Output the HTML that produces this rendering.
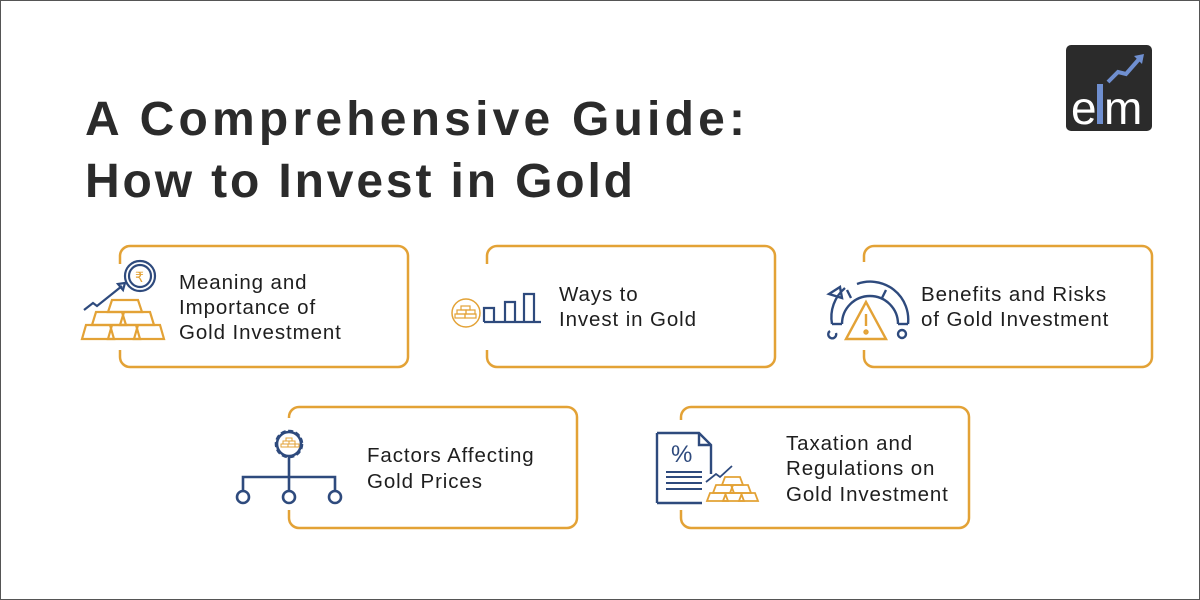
<!DOCTYPE html>
<html><head><meta charset="utf-8"><style>
html,body{margin:0;padding:0;background:#fff}
svg{display:block}
text{font-family:"Liberation Sans",sans-serif}
</style></head><body>
<svg width="1200" height="600" viewBox="0 0 1200 600" xmlns="http://www.w3.org/2000/svg">
<rect x="0.5" y="0.5" width="1199" height="599" fill="#fff" stroke="#555" stroke-width="1"/>
<g font-weight="bold" fill="#2b2b2b" font-size="48">
<text x="85" y="135" textLength="660" lengthAdjust="spacing">A Comprehensive Guide:</text>
<text x="85" y="197" textLength="548" lengthAdjust="spacing">How to Invest in Gold</text>
</g>
<rect x="1066" y="45" width="86" height="86" rx="5" fill="#2b2b2b"/>
<text x="1071" y="124" font-size="46" fill="#fff">e</text>
<rect x="1097" y="84" width="6" height="40" fill="#6f8fd0"/>
<text x="1104" y="124" font-size="46" fill="#fff">m</text>
<polyline points="1108,82 1118,72 1126,74 1140,58" fill="none" stroke="#6f8fd0" stroke-width="4"/>
<polygon points="1134,56 1144,54 1142,64" fill="#6f8fd0"/>
<g fill="none" stroke="#E3A236" stroke-width="2.5">
<rect x="120" y="246" width="288" height="121" rx="10"/>
<rect x="487" y="246" width="288" height="121" rx="10"/>
<rect x="864" y="246" width="288" height="121" rx="10"/>
<rect x="289" y="407" width="288" height="121" rx="10"/>
<rect x="681" y="407" width="288" height="121" rx="10"/>
</g>
<g fill="#fff">
<rect x="110" y="264" width="20" height="86"/>
<rect x="477" y="264" width="20" height="86"/>
<rect x="854" y="262" width="20" height="88"/>
<rect x="279" y="418" width="20" height="92"/>
<rect x="671" y="420" width="20" height="90"/>
</g>
<g font-size="20.5" fill="#1e1e1e" letter-spacing="0.9">
<text x="179" y="289">Meaning and</text>
<text x="179" y="314">Importance of</text>
<text x="179" y="339">Gold Investment</text>
<text x="559" y="301">Ways to</text>
<text x="559" y="326">Invest in Gold</text>
<text x="921" y="301">Benefits and Risks</text>
<text x="921" y="326">of Gold Investment</text>
<text x="367" y="462">Factors Affecting</text>
<text x="367" y="488">Gold Prices</text>
<text x="786" y="450">Taxation and</text>
<text x="786" y="475">Regulations on</text>
<text x="786" y="501">Gold Investment</text>
</g>
<g fill="none" stroke-width="2.2">
<circle cx="140" cy="276" r="15" stroke="#2E4A7D"/>
<circle cx="140" cy="276" r="11" stroke="#2E4A7D"/>
<text x="135" y="282" font-size="14" fill="#E3A236" stroke="none">₹</text>
<polyline points="84,310 93,303 97,306 122,286" stroke="#2E4A7D"/>
<polygon points="118,284 125,283 123,290" stroke="#2E4A7D"/>
<g stroke="#E3A236">
<polygon points="112,300 138,300 142,312 108,312"/>
<polygon points="96,312 122,312 126,325 92,325"/>
<polygon points="124,312 150,312 154,325 120,325"/>
<polygon points="86,325 110,325 114,339 82,339"/>
<polygon points="112,325 136,325 140,339 108,339"/>
<polygon points="138,325 160,325 164,339 134,339"/>
</g>
</g>
<g fill="none" stroke-width="2.2">
<circle cx="466" cy="313" r="14" stroke="#E3A236" stroke-width="1.5"/>
<g stroke="#E3A236" stroke-width="1.2"><rect x="461" y="306" width="9" height="4"/><rect x="457" y="310" width="9" height="4"/><rect x="466" y="310" width="9" height="4"/><rect x="455" y="314" width="10" height="4"/><rect x="465" y="314" width="11" height="4"/></g>
<g stroke="#2E4A7D"><polyline points="484,322 484,308 494,308 494,322"/><polyline points="505,322 505,302 515,302 515,322"/><polyline points="524,322 524,294 534,294 534,322"/><line x1="484" y1="322" x2="541" y2="322"/></g>
</g>
<g fill="none" stroke-width="2.4">
<g stroke="#2E4A7D">
<path d="M832,324 A38,38 0 0 1 845,288"/>
<path d="M857,284 A38,38 0 0 1 908,324"/>
<path d="M842,324 A28,28 0 0 1 898,324"/>
<line x1="832" y1="324" x2="842" y2="324"/><line x1="898" y1="324" x2="908" y2="324"/>
<line x1="847" y1="290" x2="851" y2="298"/><line x1="886" y1="290" x2="882" y2="298"/>
<polygon points="829,294 840,287 842,298"/>
<path d="M830,331 A4,4 0 1 0 836,333"/>
<circle cx="902" cy="334" r="4"/>
</g>
<g stroke="#E3A236"><polygon points="866,302 846,339 886,339"/><line x1="866" y1="314" x2="866" y2="326"/><circle cx="866" cy="332" r="1.5"/></g>
</g>
<g fill="none" stroke="#2E4A7D" stroke-width="2.6">
<circle cx="289" cy="444" r="13" stroke-dasharray="5 2.5"/>
<circle cx="289" cy="444" r="12"/>
<line x1="289" y1="457" x2="289" y2="477"/>
<polyline points="243,490 243,477 335,477 335,490"/>
<line x1="289" y1="477" x2="289" y2="490"/>
<circle cx="243" cy="497" r="6"/><circle cx="289" cy="497" r="6"/><circle cx="335" cy="497" r="6"/>
<g stroke="#E3A236" stroke-width="1"><rect x="286" y="438" width="6" height="3"/><rect x="283" y="441" width="6" height="3"/><rect x="289" y="441" width="6" height="3"/><rect x="281" y="444" width="7" height="3"/><rect x="288" y="444" width="7" height="3"/><rect x="295" y="444" width="4" height="3"/></g>
</g>
<g fill="none" stroke-width="2.4">
<path d="M657,433 L699,433 L711,445 L711,474 M702,503 L657,503 Z" stroke="#2E4A7D"/>
<line x1="657" y1="433" x2="657" y2="503" stroke="#2E4A7D"/>
<polyline points="699,433 699,445 711,445" stroke="#2E4A7D"/>
<text x="671" y="462" font-size="24" fill="#2E4A7D" stroke="none">%</text>
<g stroke="#2E4A7D" stroke-width="2"><line x1="666" y1="472" x2="702" y2="472"/><line x1="666" y1="477" x2="702" y2="477"/><line x1="666" y1="483" x2="702" y2="483"/><line x1="666" y1="489" x2="702" y2="489"/></g>
<polyline points="706,482 716,474 720,477 732,466" stroke="#2E4A7D" stroke-width="1.8"/>
<g stroke="#E3A236" stroke-width="1.8"><polygon points="725,477 740,477 743,485 722,485"/><polygon points="716,485 731,485 734,493 713,493"/><polygon points="733,485 748,485 751,493 730,493"/><polygon points="710,493 725,493 728,501 707,501"/><polygon points="726,493 741,493 744,501 723,501"/><polygon points="742,493 755,493 758,501 739,501"/></g>
</g>
</svg>
</body></html>
